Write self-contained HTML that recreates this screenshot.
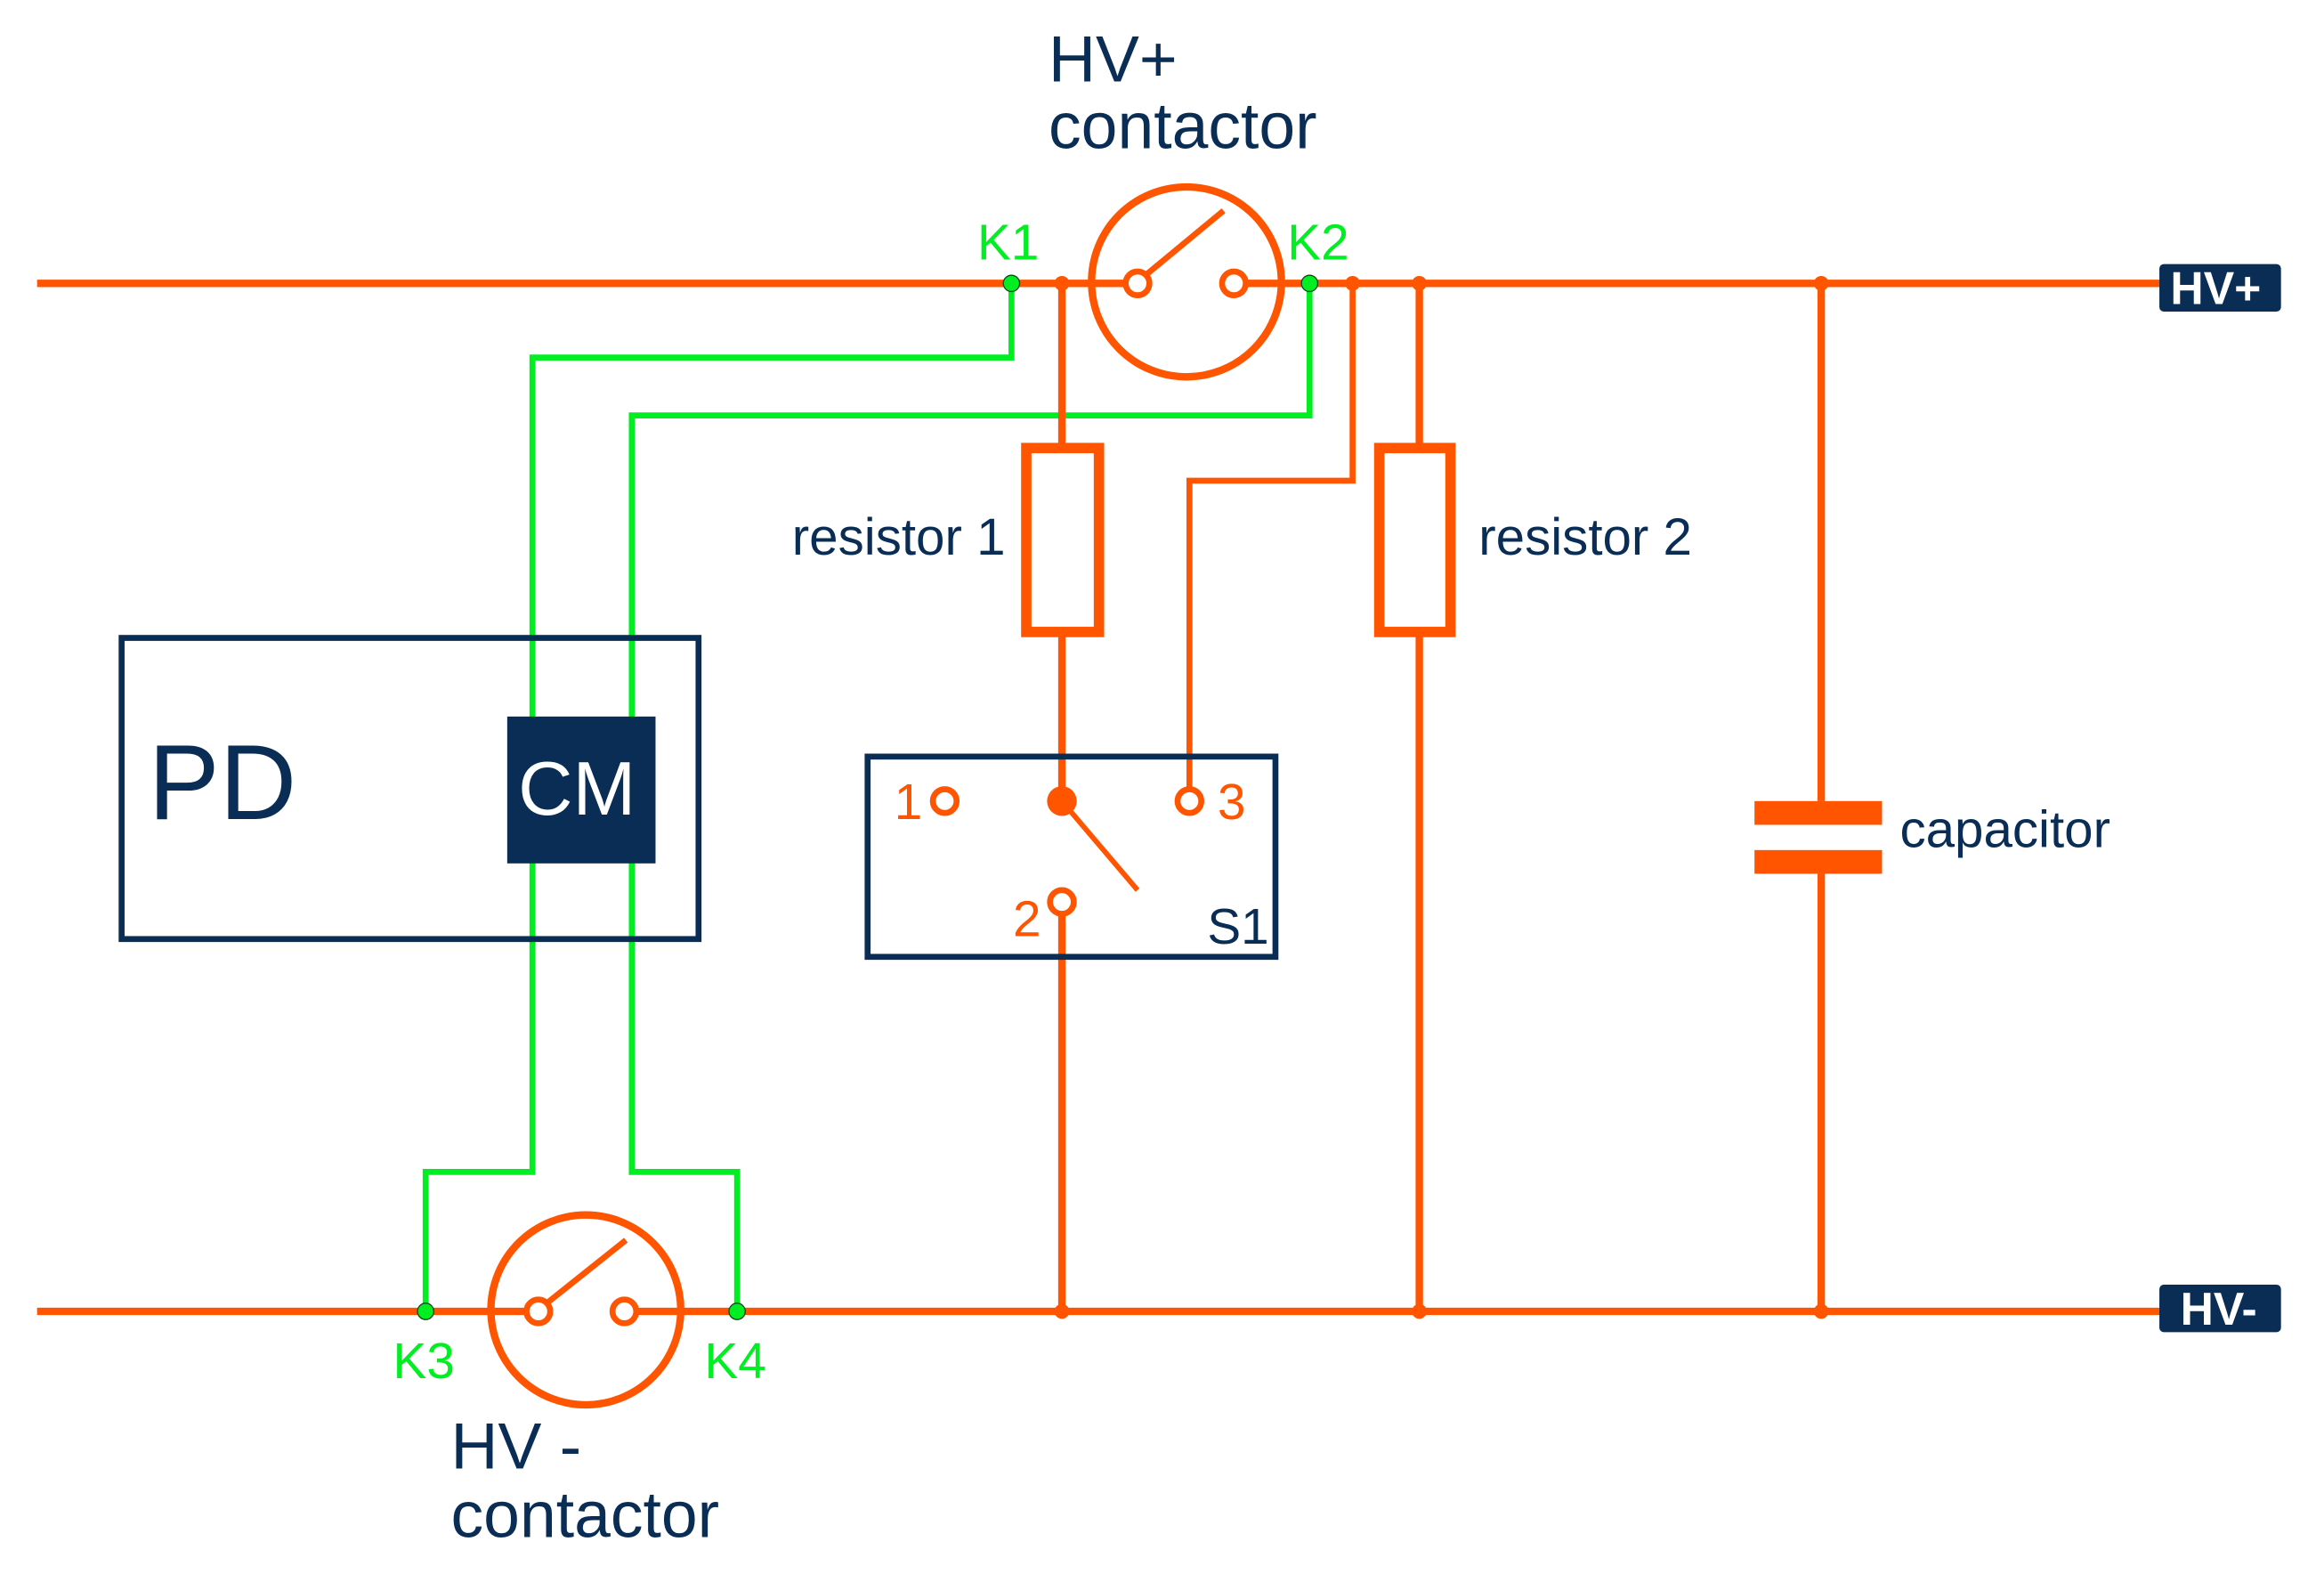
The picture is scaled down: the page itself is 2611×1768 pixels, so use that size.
<!DOCTYPE html>
<html><head><style>html,body{margin:0;padding:0;background:#fff}svg{display:block}</style></head>
<body>
<svg width="2611" height="1768" viewBox="0 0 1567 1061" xmlns="http://www.w3.org/2000/svg" font-family="'Liberation Sans', sans-serif">
<g fill="none" stroke="#00EE22" stroke-width="4">
<polyline points="682,191 682,241 359,241 359,790 287,790 287,884"/>
<polyline points="883,191 883,280 426,280 426,790 497,790 497,884"/>
</g>
<rect x="82" y="430" width="389" height="203" fill="none" stroke="#0A2D55" stroke-width="4"/>
<rect x="342" y="483" width="100" height="99" fill="#0A2D55"/>
<text x="100" y="552" font-size="72" fill="#0A2D55">PD</text>
<text x="389" y="549" font-size="51" fill="#fff" text-anchor="middle">CM</text>
<g stroke="#FF5500" stroke-width="5" fill="none">
<line x1="25" y1="191" x2="759" y2="191"/>
<line x1="840" y1="191" x2="1460" y2="191"/>
<line x1="25" y1="884" x2="355" y2="884"/>
<line x1="429" y1="884" x2="1460" y2="884"/>
<circle cx="800" cy="190" r="64"/>
<circle cx="395" cy="883" r="64"/>
<circle cx="767" cy="191" r="8" stroke-width="4"/>
<circle cx="832" cy="191" r="8" stroke-width="4"/>
<circle cx="363" cy="884" r="8" stroke-width="4"/>
<circle cx="421" cy="884" r="8" stroke-width="4"/>
<line x1="773" y1="185" x2="825" y2="142" stroke-width="4"/>
<line x1="368" y1="879" x2="422" y2="836" stroke-width="4"/>
<line x1="716" y1="191" x2="716" y2="302"/>
<line x1="716" y1="426" x2="716" y2="540"/>
<rect x="692" y="302" width="49" height="124" stroke-width="7"/>
<line x1="957" y1="191" x2="957" y2="302"/>
<line x1="957" y1="426" x2="957" y2="884"/>
<rect x="930" y="302" width="48" height="124" stroke-width="7"/>
<polyline points="912,191 912,324 802,324 802,532" stroke-width="4"/>
<line x1="716" y1="616" x2="716" y2="884"/>
<line x1="1228" y1="191" x2="1228" y2="540"/>
<line x1="1228" y1="589" x2="1228" y2="884"/>
<circle cx="637" cy="540" r="8" stroke-width="4"/>
<circle cx="802" cy="540" r="8" stroke-width="4"/>
<circle cx="716" cy="608" r="8" stroke-width="4"/>
<line x1="716" y1="540" x2="767" y2="600" stroke-width="3.5"/>
</g>
<g fill="#FF5500">
<rect x="1183" y="540" width="86" height="16"/>
<rect x="1183" y="573" width="86" height="16"/>
<circle cx="716" cy="540" r="10"/>
<circle cx="716" cy="191" r="5"/><circle cx="912" cy="191" r="5"/><circle cx="957" cy="191" r="5"/><circle cx="1228" cy="191" r="5"/>
<circle cx="716" cy="884" r="5"/><circle cx="957" cy="884" r="5"/><circle cx="1228" cy="884" r="5"/>
</g>
<rect x="585" y="510" width="275" height="135" fill="none" stroke="#0A2D55" stroke-width="4"/>
<g fill="#00EE22" stroke="#114422" stroke-width="0.8">
<circle cx="682" cy="191" r="5.5"/><circle cx="883" cy="191" r="5.5"/>
<circle cx="287" cy="884" r="5.5"/><circle cx="497" cy="884" r="5.5"/>
</g>
<g font-size="34" fill="#FF5500">
<text x="603" y="552">1</text><text x="821" y="552">3</text><text x="683" y="631">2</text>
</g>
<text x="814" y="636" font-size="34" fill="#0A2D55">S1</text>
<g font-size="34" fill="#00EE22">
<text x="659" y="175">K1</text><text x="868" y="175">K2</text>
<text x="265" y="929">K3</text><text x="475" y="929">K4</text>
</g>
<g font-size="44" fill="#0A2D55">
<text x="707" y="55">HV+</text><text x="707" y="100">contactor</text>
<text x="304" y="990">HV -</text><text x="304" y="1036">contactor</text>
</g>
<g font-size="35" fill="#0A2D55">
<text x="534" y="374">resistor 1</text><text x="997" y="374">resistor 2</text>
<text x="1281" y="571">capacitor</text>
</g>
<rect x="1456" y="178" width="82" height="32" rx="3" fill="#0A2D55"/>
<rect x="1456" y="866" width="82" height="32" rx="3" fill="#0A2D55"/>
<g font-size="31" font-weight="bold" fill="#fff" text-anchor="middle">
<text x="1494" y="205">HV+</text><text x="1496" y="893">HV-</text>
</g>
</svg>
</body></html>
